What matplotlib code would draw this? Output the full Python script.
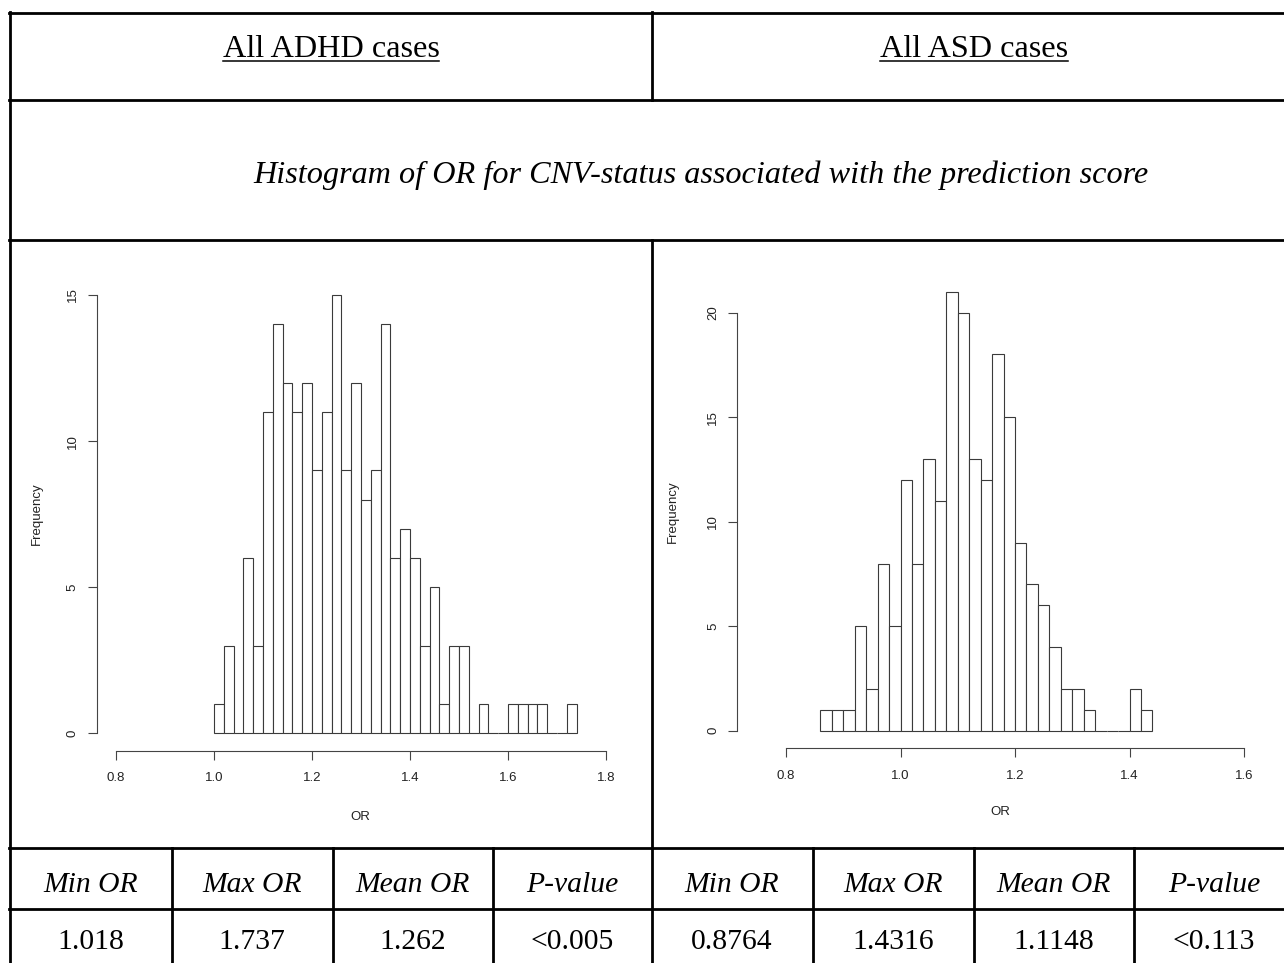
import numpy as np
import matplotlib.pyplot as plt
from matplotlib.lines import Line2D

# histogram counts (bin width 0.02)
bin_width = 0.02
adhd_start = 1.00
adhd_counts = [1, 3, 0, 6, 3, 11, 14, 12, 11, 12, 9, 11, 15, 9, 12, 8, 9, 14,
               6, 7, 6, 3, 5, 1, 3, 3, 0, 1, 0, 0, 1, 1, 1, 1, 0, 0, 1]
asd_start = 0.86
asd_counts = [1, 1, 1, 5, 2, 8, 5, 12, 8, 13, 11, 21, 20, 13, 12, 18, 15, 9,
              7, 6, 4, 2, 2, 1, 0, 0, 0, 2, 1]

adhd_xticks = [0.8, 1.0, 1.2, 1.4, 1.6, 1.8]
adhd_yticks = [0, 5, 10, 15]
asd_xticks = [0.8, 1.0, 1.2, 1.4, 1.6]
asd_yticks = [0, 5, 10, 15, 20]

group_titles = ["All ADHD cases", "All ASD cases"]
subtitle = "Histogram of OR for CNV-status associated with the prediction score"
stat_headers = ["Min OR", "Max OR", "Mean OR", "P-value"]
adhd_stats = ["1.018", "1.737", "1.262", "<0.005"]
asd_stats = ["0.8764", "1.4316", "1.1148", "<0.113"]

W, H = 1284, 963
fig = plt.figure(figsize=(W / 100, H / 100), dpi=100)
fig.patch.set_facecolor("white")


def fx(x):
    return x / W


def fy(y):
    return 1 - y / H


def hline(y, x0, x1):
    fig.add_artist(Line2D([fx(x0), fx(x1)], [fy(y), fy(y)], color="black", lw=2.0))


def vline(x, y0, y1):
    fig.add_artist(Line2D([fx(x), fx(x)], [fy(y0), fy(y1)], color="black", lw=2.0))


# table grid
for y in [13, 100, 240, 848, 909]:
    hline(y, 9, 1290)
vline(10, 12, 970)
vline(652, 12, 100)
vline(652, 240, 970)
for x in [172, 333, 493, 813, 974, 1134]:
    vline(x, 848, 970)

serif = "Liberation Serif"
sans = "Liberation Sans"

# group titles, underlined
title_pos = [331, 974]
titles = []
for t, x in zip(group_titles, title_pos):
    titles.append(fig.text(fx(x), fy(57), t, ha="center", va="baseline",
                           family=serif, fontsize=23.2))

fig.text(fx(701), fy(183), subtitle, ha="center", va="baseline",
         family=serif, style="italic", fontsize=23.2)

col_centers = [91, 252, 413, 572, 732, 893, 1054, 1214]
for i, c in enumerate(col_centers):
    fig.text(fx(c), fy(892), stat_headers[i % 4], ha="center", va="baseline",
             family=serif, style="italic", fontsize=21.3)
    vals = adhd_stats if i < 4 else asd_stats
    fig.text(fx(c), fy(949), vals[i % 4], ha="center", va="baseline",
             family=serif, fontsize=21.3)


def r_hist(rect, start, counts, xlim, ylim, xticks, yticks):
    left, right, top, bottom = rect
    ax = fig.add_axes([fx(left), fy(bottom), fx(right - left), (bottom - top) / H])
    edges = start + bin_width * np.arange(len(counts))
    ax.bar(edges, counts, width=bin_width, align="edge", color="white",
           edgecolor="#3a3a3a", linewidth=0.8)
    ax.set_xlim(*xlim)
    ax.set_ylim(*ylim)
    ax.set_xticks(xticks)
    ax.set_xticklabels([f"{t:.1f}" for t in xticks])
    ax.set_yticks(yticks)
    ax.set_yticklabels([str(t) for t in yticks], rotation=90, va="center")
    for s in ["top", "right"]:
        ax.spines[s].set_visible(False)
    for s in ["left", "bottom"]:
        ax.spines[s].set_color("#444444")
        ax.spines[s].set_linewidth(0.8)
    ax.spines["bottom"].set_bounds(xticks[0], xticks[-1])
    ax.spines["left"].set_bounds(yticks[0], yticks[-1])
    ax.tick_params(axis="both", length=6.8, width=0.8, color="#444444",
                   labelsize=9.5, labelcolor="#222222")
    ax.tick_params(axis="x", pad=8.5)
    ax.tick_params(axis="y", pad=6)
    for lab in ax.get_xticklabels() + ax.get_yticklabels():
        lab.set_family(sans)
    ax.patch.set_alpha(0)
    return ax


ax1 = r_hist((96.5, 625.6, 277.5, 750.8), adhd_start, adhd_counts,
             (0.760, 1.840), (-0.6, 15.6), adhd_xticks, adhd_yticks)
ax2 = r_hist((737, 1263.5, 274.2, 748.3), asd_start, asd_counts,
             (0.7144, 1.634), (-0.84, 21.84), asd_xticks, asd_yticks)

fig.text(fx(360), fy(817), "OR", ha="center", va="center", family=sans,
         fontsize=9.5, color="#222222")
fig.text(fx(1000), fy(812), "OR", ha="center", va="center", family=sans,
         fontsize=9.5, color="#222222")
fig.text(fx(37), fy(514), "Frequency", ha="center", va="center", rotation=90,
         family=sans, fontsize=9.5, color="#222222")
fig.text(fx(673), fy(512), "Frequency", ha="center", va="center", rotation=90,
         family=sans, fontsize=9.5, color="#222222")

# underline the group titles
fig.canvas.draw()
renderer = fig.canvas.get_renderer()
for t in titles:
    bb = t.get_window_extent(renderer)
    fig.add_artist(Line2D([bb.x0 / W, bb.x1 / W], [fy(61), fy(61)],
                          color="black", lw=1.1))

fig.savefig("out.png", dpi=100, facecolor="white")
